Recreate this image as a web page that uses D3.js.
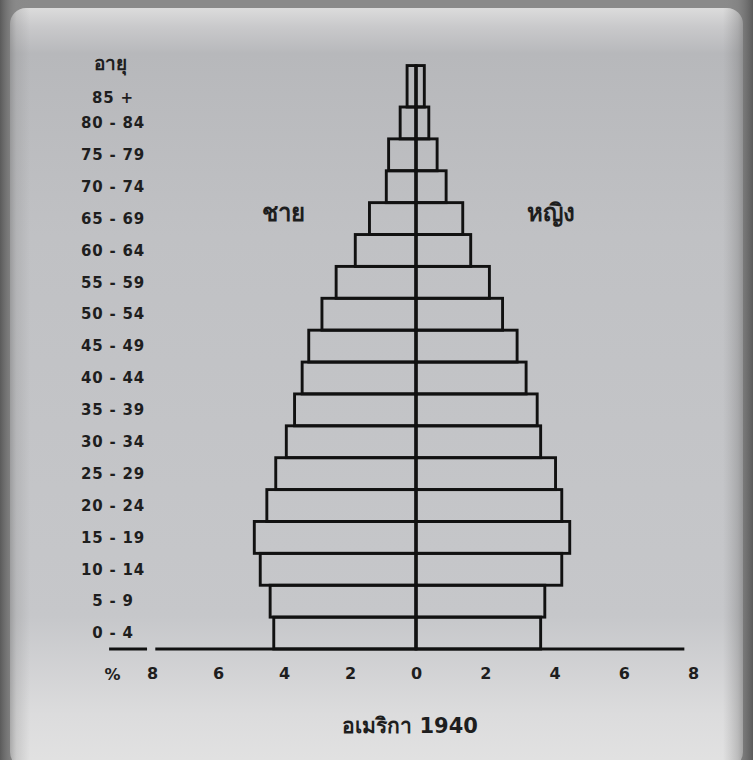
<!DOCTYPE html>
<html>
<head>
<meta charset="utf-8">
<script src="https://cdn.jsdelivr.net/npm/d3@7"></script>
<style>
  html, body { margin: 0; padding: 0; background: #7a7a7a; }
  svg { display: block; }
</style>
</head>
<body>
<div id="chart"></div>
<script>
// age groups (bottom to top)
const ageLabels = ["0 - 4", "5 - 9", "10 - 14", "15 - 19", "20 - 24", "25 - 29", "30 - 34", "35 - 39",
  "40 - 44", "45 - 49", "50 - 54", "55 - 59", "60 - 64", "65 - 69", "70 - 74", "75 - 79", "80 - 84", "85 +"]
const ageFrom = [0, 5, 10, 15, 20, 25, 30, 35, 40, 45, 50, 55, 60, 65, 70, 75, 80, 85]
const ageTo = [5, 10, 15, 20, 25, 30, 35, 40, 45, 50, 55, 60, 65, 70, 75, 80, 85, 91.5]
// percent of population
const male = [4.31, 4.42, 4.72, 4.9, 4.52, 4.25, 3.93, 3.68, 3.45, 3.25, 2.85, 2.42, 1.84, 1.41, 0.9, 0.83, 0.48, 0.27]
const female = [3.6, 3.72, 4.21, 4.44, 4.21, 4.03, 3.6, 3.5, 3.18, 2.92, 2.5, 2.12, 1.58, 1.35, 0.87, 0.61, 0.37, 0.24]
const leftTicks = [8, 6, 4, 2]
const rightTicks = [0, 2, 4, 6, 8]

const w = 753
const h = 760
const cx = 416

const svg = d3.select("#chart").append("svg")
  .attr("width", w)
  .attr("height", h)

// frame / background
const defs = svg.append("defs")
const bg = defs.append("linearGradient").attr("id", "bg")
  .attr("x1", 0).attr("y1", 0).attr("x2", 0).attr("y2", 1)
bg.append("stop").attr("offset", "0%").attr("stop-color", "#dcdcdc")
bg.append("stop").attr("offset", "2.5%").attr("stop-color", "#c9c9cb")
bg.append("stop").attr("offset", "6%").attr("stop-color", "#b7b8bb")
bg.append("stop").attr("offset", "30%").attr("stop-color", "#c0c1c4")
bg.append("stop").attr("offset", "80%").attr("stop-color", "#c6c7ca")
bg.append("stop").attr("offset", "93%").attr("stop-color", "#dcdcdd")
bg.append("stop").attr("offset", "100%").attr("stop-color", "#e2e2e2")

const side = defs.append("linearGradient").attr("id", "side")
  .attr("x1", 0).attr("y1", 0).attr("x2", 1).attr("y2", 0)
side.append("stop").attr("offset", "0%").attr("stop-color", "#555").attr("stop-opacity", 0.9)
side.append("stop").attr("offset", "2.2%").attr("stop-color", "#888").attr("stop-opacity", 0.25)
side.append("stop").attr("offset", "4%").attr("stop-color", "#888").attr("stop-opacity", 0)
side.append("stop").attr("offset", "96%").attr("stop-color", "#888").attr("stop-opacity", 0)
side.append("stop").attr("offset", "98%").attr("stop-color", "#777").attr("stop-opacity", 0.35)
side.append("stop").attr("offset", "100%").attr("stop-color", "#555").attr("stop-opacity", 0.9)

svg.append("rect").attr("width", w).attr("height", h).attr("fill", "#8a8a8a")
svg.append("rect")
  .attr("x", 10).attr("y", 8)
  .attr("width", w - 20).attr("height", h)
  .attr("rx", 16)
  .attr("fill", "url(#bg)")
svg.append("rect").attr("width", w).attr("height", h).attr("fill", "url(#side)")

// scales
const y = d3.scaleLinear().domain([0, 85]).range([649, 107])
const xMale = d3.scaleLinear().domain([0, 8]).range([cx, 152])
const xFemale = d3.scaleLinear().domain([0, 8]).range([cx, 693])

const ink = "#111"
const sw = 2.9
const g = svg.append("g")

// male bars
g.selectAll("rect.male")
  .data(male)
  .enter()
  .append("rect")
  .attr("class", "male")
  .attr("x", d => xMale(d))
  .attr("y", (d, i) => y(ageTo[i]))
  .attr("width", d => cx - xMale(d))
  .attr("height", (d, i) => y(ageFrom[i]) - y(ageTo[i]))
  .attr("fill", "none")
  .attr("stroke", ink)
  .attr("stroke-width", sw)

// female bars
g.selectAll("rect.female")
  .data(female)
  .enter()
  .append("rect")
  .attr("class", "female")
  .attr("x", cx)
  .attr("y", (d, i) => y(ageTo[i]))
  .attr("width", d => xFemale(d) - cx)
  .attr("height", (d, i) => y(ageFrom[i]) - y(ageTo[i]))
  .attr("fill", "none")
  .attr("stroke", ink)
  .attr("stroke-width", sw)

// centre line
g.append("line")
  .attr("x1", cx).attr("x2", cx)
  .attr("y1", y(ageTo[ageTo.length - 1])).attr("y2", y(0))
  .attr("stroke", ink).attr("stroke-width", sw)

// base line (with the little break near 8)
g.append("line")
  .attr("x1", xMale(7.9)).attr("x2", xFemale(7.75))
  .attr("y1", y(0)).attr("y2", y(0))
  .attr("stroke", ink).attr("stroke-width", sw)
g.append("line")
  .attr("x1", xMale(9.3)).attr("x2", xMale(8.15))
  .attr("y1", y(0)).attr("y2", y(0))
  .attr("stroke", ink).attr("stroke-width", sw)

// x axes
const font = "'DejaVu Sans', sans-serif"
const axL = svg.append("g").attr("transform", "translate(0," + (y(0) + 16) + ")")
  .call(d3.axisBottom(xMale).tickValues(leftTicks).tickSize(0))
const axR = svg.append("g").attr("transform", "translate(0," + (y(0) + 16) + ")")
  .call(d3.axisBottom(xFemale).tickValues(rightTicks).tickSize(0))
;[axL, axR].forEach(ax => {
  ax.select(".domain").remove()
  ax.selectAll("text")
    .attr("font-family", font)
    .attr("font-size", 16)
    .attr("font-weight", "bold")
    .attr("fill", "#1e1e1e")
})
svg.append("text")
  .attr("x", xMale(9.2)).attr("y", y(0) + 31)
  .attr("text-anchor", "middle")
  .attr("font-family", font).attr("font-size", 16).attr("font-weight", "bold").attr("fill", "#1e1e1e")
  .text("%")

// age labels
svg.selectAll("text.age")
  .data(ageLabels)
  .enter()
  .append("text")
  .attr("class", "age")
  .attr("x", 113)
  .attr("y", (d, i) => y(ageFrom[i] + (i === ageLabels.length - 1 ? 1.5 : 2.5)))
  .attr("dy", "0.35em")
  .attr("text-anchor", "middle")
  .attr("font-family", font)
  .attr("font-size", 15)
  .attr("font-weight", "bold")
  .attr("letter-spacing", 0.8)
  .attr("fill", "#1e1e1e")
  .text(d => d)

svg.append("text")
  .attr("x", 110).attr("y", 70)
  .attr("text-anchor", "middle")
  .attr("font-family", font).attr("font-size", 19).attr("font-weight", "bold").attr("fill", "#1e1e1e")
  .text("อายุ")

// side titles
svg.append("text")
  .attr("x", 283).attr("y", 221)
  .attr("text-anchor", "middle")
  .attr("font-family", font).attr("font-size", 24).attr("font-weight", "bold").attr("fill", "#1e1e1e")
  .text("ชาย")
svg.append("text")
  .attr("x", 551).attr("y", 221)
  .attr("text-anchor", "middle")
  .attr("font-family", font).attr("font-size", 24).attr("font-weight", "bold").attr("fill", "#1e1e1e")
  .text("หญิง")

// chart title
svg.append("text")
  .attr("x", 410).attr("y", 733)
  .attr("text-anchor", "middle")
  .attr("font-family", font).attr("font-size", 21).attr("font-weight", "bold").attr("fill", "#1e1e1e")
  .text("อเมริกา 1940")
</script>
</body>
</html>
